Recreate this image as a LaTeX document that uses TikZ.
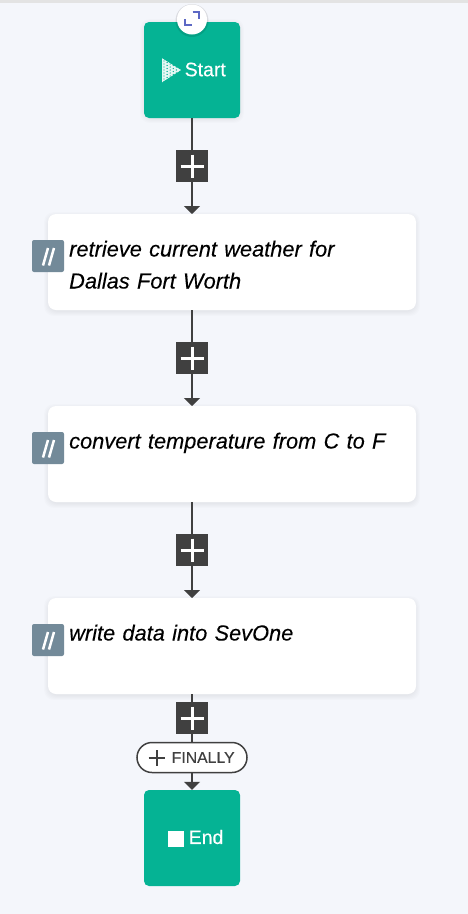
\documentclass[tikz,border=0pt]{standalone}
\usepackage{fontspec}
\setmainfont{Liberation Sans}
\usetikzlibrary{arrows.meta,calc}
\definecolor{bgc}{HTML}{F4F6FB}
\definecolor{teal}{HTML}{05B394}
\definecolor{dark}{HTML}{404040}
\definecolor{slateb}{HTML}{738A99}
\definecolor{ind}{HTML}{5C68C4}
\newfontfamily\cardfont[WordSpace=0.72,FakeBold=0.12]{Liberation Sans}
\newfontfamily\medfont[FakeBold=0.35]{Liberation Sans}
\tikzset{
  x=1pt,y=-1pt,
  teal box/.style={fill=teal,rounded corners=5pt,minimum width=96pt,minimum height=96pt,inner sep=0pt,text=white},
  card/.style={fill=white,rounded corners=8pt,minimum width=368pt,minimum height=96pt,inner sep=0pt},
  cardshadow/.style={fill=black,fill opacity=0.012,rounded corners=10pt,minimum width=374pt,minimum height=102pt,inner sep=0pt},
  plusbox/.style={fill=dark,minimum size=32pt,inner sep=0pt},
  badge/.style={fill=slateb,rounded corners=2pt,minimum size=32pt,inner sep=0pt},
  tag/.style={anchor=north west,inner sep=0pt,font=\cardfont\itshape\fontsize{21.8}{32}\selectfont,align=left,text width=345pt},
  conn/.style={draw=dark,line width=1.7pt},
  arrowc/.style={conn,-{Triangle[length=8pt,width=16pt]}},
  pl/.style={draw=white,line width=3pt},
  tealtext/.style={font=\medfont\fontsize{19.5}{23}\selectfont,text=white,anchor=west,inner sep=0pt},
}
\newcommand{\stepcard}[4]{%
  \foreach \k in {0,1,2,3,4}{\node[cardshadow,minimum width={368+2*\k},minimum height={96+2*\k}] at (232,#2+2){};}
  \node[card] (#1) at (232,#2) {};
  \coordinate (#1n) at (192,#2-48);
  \coordinate (#1s) at (192,#2+48);
  \node[badge] (#1b) at (48,#2-6) {};
  \draw[white,line width=2.5pt] (43,#2+3.5) -- (48,#2-14);
  \draw[white,line width=2.5pt] (49,#2+3.5) -- (54,#2-14);
  \node[tag] (#1t) at (69,#2-#3) {#4};
}
\begin{document}
\begin{tikzpicture}
\useasboundingbox (0,0) rectangle (468,914);
\fill[bgc] (0,0) rectangle (468,914);
\fill[gray!22] (0,0) rectangle (468,2.5);
% start
\foreach \k in {0,1,2,3,4}{\node[cardshadow,minimum width={96+2*\k},minimum height={96+2*\k}] at (192,71){};}
\node[teal box] (start) at (192,70) {};
\fill[white,opacity=.9] (162,58) -- (181.5,70) -- (162,82.5) -- cycle;
\foreach \i in {0,...,5}{
  \foreach \j in {-4,...,4}{
    \fill[teal] ({164+\i*3.1},{70+\j*3+mod(\i,2)*1.5}) circle (0.7pt);
  }
}
\fill[teal] (162,58) -- (181.5,70) -- (190,58) -- cycle;
\fill[teal] (162,82.5) -- (181.5,70) -- (190,82.5) -- cycle;
\node[tealtext] (startl) at (184.5,69.5) {Start};
\stepcard{s1}{262}{21.5}{retrieve current weather for\\Dallas Fort Worth}
\stepcard{s2}{454}{21.5}{convert temperature from C to F}
\stepcard{s3}{646}{21.5}{write data into SevOne}
\node[teal box] (end) at (192,838) {};
\node[tealtext] (endl) at (188.5,837) {End};
\fill[white] (167.7,830.5) rectangle (184,846.7);
% connectors
\node[plusbox] (p1) at (192,166) {};
\node[plusbox] (p2) at (192,358) {};
\node[plusbox] (p3) at (192,550) {};
\node[plusbox] (p4) at (192,718) {};
\draw[conn] (start.south) -- (p1.north);
\draw[arrowc] (p1.south) -- (s1n);
\draw[conn] (s1s) -- (p2.north);
\draw[arrowc] (p2.south) -- (s2n);
\draw[conn] (s2s) -- (p3.north);
\draw[arrowc] (p3.south) -- (s3n);
\draw[conn] (s3s) -- (p4.north);
\draw[arrowc] (p4.south) -- (end.north);
\foreach \p in {p1,p2,p3,p4}{
  \draw[pl] ($(\p)+(-11.5,0)$) -- ($(\p)+(11.5,0)$);
  \draw[pl] ($(\p)+(0,-11.5)$) -- ($(\p)+(0,11.5)$);
}
% finally pill
\node[draw=dark,fill=white,line width=1.5pt,rounded corners=15pt,minimum width=110pt,minimum height=30pt,inner sep=0pt] (fin) at (192,757.5) {};
\draw[dark,line width=2pt] (148.5,758) -- (164.5,758);
\draw[dark,line width=2pt] (156.5,750) -- (156.5,766);
\node[font=\medfont\fontsize{15.8}{18}\selectfont,text=dark,anchor=west,inner sep=0pt] (finl) at (171.5,757.5) {FINALLY};
% expand button
\fill[black,opacity=.1] (192,20.5) circle (16.5);
\node[circle,fill=white,minimum size=30pt,inner sep=0pt] (exp) at (192,19.5) {};
\draw[ind,line width=2.2pt] (185.2,19) -- (185.2,25.2) -- (191.5,25.2);
\draw[ind,line width=2.2pt] (192.5,12.2) -- (199,12.2) -- (199,18.5);
\end{tikzpicture}
\end{document}
